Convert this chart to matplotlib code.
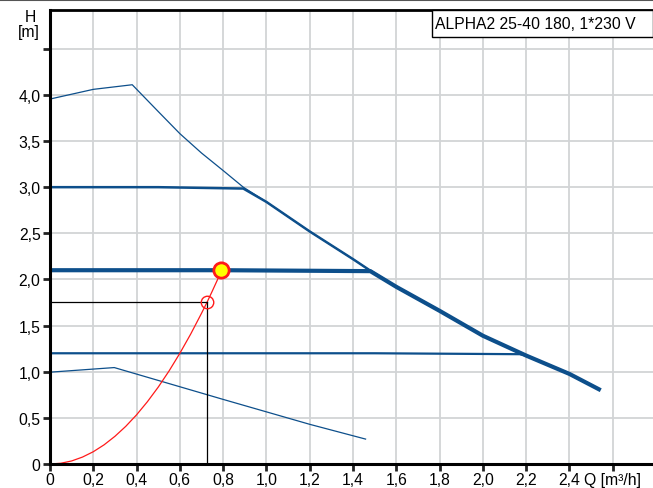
import matplotlib
matplotlib.use("Agg")
import matplotlib.pyplot as plt
from matplotlib.patches import Rectangle
from matplotlib.lines import Line2D

plt.rcParams['font.family'] = ['Liberation Sans', 'DejaVu Sans']

title = "ALPHA2 25-40 180, 1*230 V"

# Pump curves (Q in m³/h, H in m)
max_q = [0.0, 0.2, 0.38, 0.5, 0.6, 0.7, 0.8, 0.893, 1.0, 1.2, 1.4, 1.48, 1.6, 1.8, 2.0, 2.2, 2.4, 2.536]
max_h = [3.955, 4.06, 4.11, 3.82, 3.58, 3.37, 3.18, 3.0, 2.84, 2.52, 2.22, 2.095, 1.92, 1.66, 1.39, 1.175, 0.976, 0.81]

cp3_q = [0.0, 0.5, 0.893, 1.0, 1.2, 1.4, 1.48, 1.6, 1.8, 2.0, 2.2, 2.4, 2.536]
cp3_h = [3.0, 3.0, 2.985, 2.84, 2.52, 2.22, 2.095, 1.92, 1.66, 1.39, 1.175, 0.976, 0.81]

cp2_q = [0.0, 0.8, 1.48, 1.6, 1.8, 2.0, 2.2, 2.4, 2.536]
cp2_h = [2.1, 2.1, 2.09, 1.92, 1.66, 1.39, 1.175, 0.976, 0.81]

cp1_q = [0.0, 1.5, 2.17, 2.2, 2.4, 2.536]
cp1_h = [1.2, 1.2, 1.19, 1.175, 0.976, 0.81]

min_q = [0.0, 0.297, 0.8, 1.2, 1.458]
min_h = [0.995, 1.045, 0.70, 0.43, 0.27]

# System curve
sys_q = [0.0, 0.05, 0.1, 0.15, 0.2, 0.25, 0.3, 0.35, 0.4, 0.45, 0.5, 0.55, 0.6, 0.65, 0.7, 0.725, 0.75, 0.79]
sys_h = [0.0, 0.008, 0.033, 0.075, 0.133, 0.208, 0.30, 0.408, 0.533, 0.675, 0.833, 1.008, 1.20, 1.408, 1.633, 1.75, 1.875, 2.08]

duty_q, duty_h = 0.79, 2.10
ref_q, ref_h = 0.725, 1.76

xticks = [0, 0.2, 0.4, 0.6, 0.8, 1.0, 1.2, 1.4, 1.6, 1.8, 2.0, 2.2, 2.4, 2.6]
xlabels = ["0", "0,2", "0,4", "0,6", "0,8", "1,0", "1,2", "1,4", "1,6", "1,8", "2,0", "2,2", "2,4", "Q [m³/h]"]
yticks = [0, 0.5, 1.0, 1.5, 2.0, 2.5, 3.0, 3.5, 4.0, 4.5]
ylabels = ["0", "0,5", "1,0", "1,5", "2,0", "2,5", "3,0", "3,5", "4,0", ""]

W, H = 653, 489
fs = 11.3
fig = plt.figure(figsize=(W / 100, H / 100), dpi=100)
ax = fig.add_axes([50 / W, (H - 465) / H, 1 - 50 / W, (465 - 11) / H])

blue = '#0d4f8b'
ax.plot(max_q, max_h, color=blue, lw=0.9)
ax.plot(cp3_q, cp3_h, color=blue, lw=1.8)
ax.plot(cp1_q, cp1_h, color=blue, lw=1.6)
ax.plot(cp2_q, cp2_h, color=blue, lw=3.0)
ax.plot(min_q, min_h, color=blue, lw=0.9)

ax.plot(sys_q, sys_h, color='#ff1a1a', lw=0.9)
ax.plot([0, ref_q], [ref_h, ref_h], color='black', lw=0.9)
ax.plot([ref_q, ref_q], [0, ref_h], color='black', lw=0.9)
ax.plot([ref_q], [ref_h], marker='o', ms=9, mfc='none', mec='#ff1a1a', mew=1.0)
ax.plot([duty_q], [duty_h], marker='o', ms=11, mfc='#ffff00', mec='#ff1a1a', mew=2.0, zorder=5)

ax.set_xlim(0, 2.786)
ax.set_ylim(0, 4.92)
ax.set_xticks(xticks)
ax.set_xticklabels(xlabels)
ax.set_yticks(yticks)
ax.set_yticklabels(ylabels)
ax.grid(True, color='#d2d4d6', lw=1.3)
ax.set_axisbelow(True)
ax.tick_params(axis='both', length=4.8, width=2, color='#222222', labelsize=fs)
ax.tick_params(axis='x', pad=1.0)
ax.tick_params(axis='y', pad=2.0)
for s in ['left', 'bottom']:
    ax.spines[s].set_linewidth(2.2)
    ax.spines[s].set_color('black')
ax.spines['top'].set_linewidth(2.0)
ax.spines['right'].set_visible(False)

fig.text(30 / W, 1 - 17 / H, "H", ha='center', va='center', fontsize=fs)
fig.text(29 / W, 1 - 33 / H, "[m]", ha='center', va='center', fontsize=fs)

fig.patches.append(Rectangle((432 / W, (H - 38) / H), 1 - 432 / W, 27 / H,
                             transform=fig.transFigure, facecolor='white',
                             edgecolor='black', lw=1.0, zorder=10))
fig.text(435 / W, 1 - 24.5 / H, title, ha='left', va='center', fontsize=fs, zorder=11)

fig.lines.append(Line2D([0, 1], [1 - 0.8 / H, 1 - 0.8 / H], transform=fig.transFigure,
                        color='#555555', lw=1.5))

fig.savefig("out.png", dpi=100)
